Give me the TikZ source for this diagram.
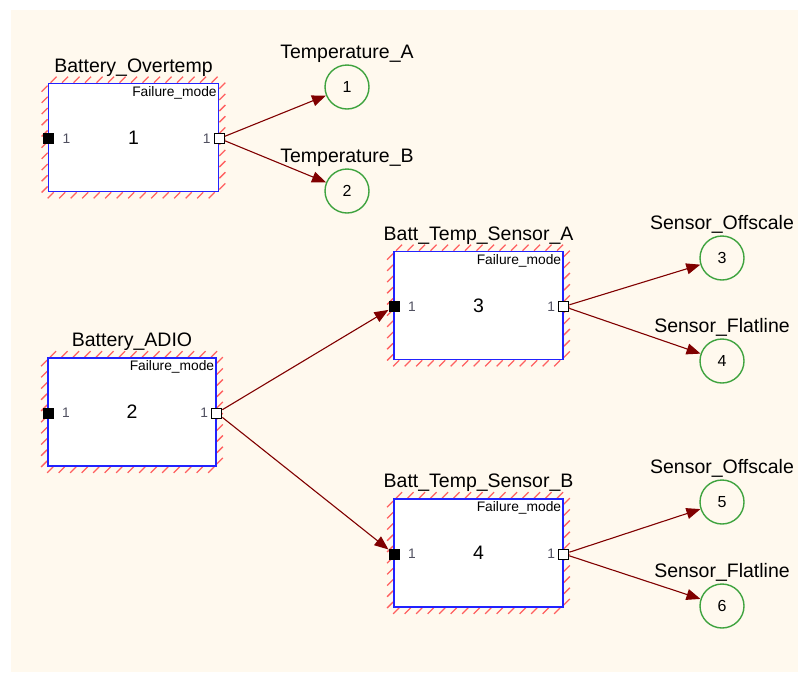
\documentclass[tikz,border=0pt]{standalone}
\usepackage{fontspec}
\setmainfont{Liberation Sans}
\usepackage{tikz}
\usetikzlibrary{arrows.meta,backgrounds}
\definecolor{bgcream}{HTML}{FFF9EE}
\definecolor{boxblue}{HTML}{2222FF}
\definecolor{hatchred}{HTML}{FF6060}
\definecolor{ringgreen}{HTML}{3FA33F}
\definecolor{linkred}{HTML}{800000}
\definecolor{portgray}{HTML}{505060}
\newcommand{\fmtitle}{\fontsize{19.5}{23}\selectfont}
\newcommand{\fmsmall}{\fontsize{13.8}{16}\selectfont}
\newcommand{\fmnum}{\fontsize{16}{18}\selectfont}

\begin{document}
\begin{tikzpicture}[x=1pt,y=-1pt,
      fmbox/.style={rectangle,draw=boxblue,line width=1.7pt,fill=white,
                    minimum width=170pt,minimum height=108pt,inner sep=0pt,font=\fmtitle},
      boxtitle/.style={font=\fmtitle,inner sep=0pt,text height=14pt,text depth=4pt,label distance=6pt},
      fmtag/.style={font=\fmsmall,inner xsep=2.5pt,inner ysep=3.5pt,anchor=north east},
      inport/.style={rectangle,fill=black,minimum size=11pt,inner sep=0pt},
      outport/.style={rectangle,draw=black,line width=1pt,fill=white,minimum size=10pt,inner sep=0pt},
      portnum/.style={font=\fmsmall,text=portgray,inner sep=0pt},
      fmcircle/.style={circle,draw=ringgreen,line width=1.4pt,minimum size=44pt,inner sep=0pt,font=\fmnum},
      circtitle/.style={font=\fmtitle,inner sep=0pt,text height=14pt,text depth=4pt,label distance=2pt},
      fmhatch/.style={draw=hatchred,line width=1.3pt},
      fmlink/.style={draw=linkred,line width=1.1pt,-{Triangle[length=14pt,width=11pt]}}]
    \begin{scope}[on background layer]
      \fill[white] (0,0) rectangle (798,673);
      \fill[bgcream] (11,10) rectangle (798,672);
    \end{scope}
    \useasboundingbox (0,0) rectangle (798,673);

    \node[fmbox,label={[boxtitle]above:Battery\_Overtemp},label={[fmtag]north east:Failure\_mode}]
      (bo) at (133.5,137.5) {1};
    \node[fmbox,minimum width=168pt,label={[boxtitle]above:Battery\_ADIO},label={[fmtag]north east:Failure\_mode}]
      (ba) at (132,412) {2};
    \node[fmbox,minimum width=169pt,label={[boxtitle]above:Batt\_Temp\_Sensor\_A},label={[fmtag]north east:Failure\_mode}]
      (bsa) at (478.5,305.5) {3};
    \node[fmbox,minimum width=169pt,label={[boxtitle]above:Batt\_Temp\_Sensor\_B},label={[fmtag]north east:Failure\_mode}]
      (bsb) at (478.5,553) {4};

    \foreach \b in {bo,ba,bsa,bsb}{
      \begin{scope}[on background layer]
        \foreach \i in {0,...,14}{
          \draw[fmhatch] ([shift={(\i*11.5+3,0)}]\b.north west) -- ++(6,-6);
          \draw[fmhatch] ([shift={(\i*11.5+6,0)}]\b.south west) -- ++(-6,6);
        }
        \foreach \j in {0,...,9}{
          \draw[fmhatch] ([shift={(0,\j*11.2+6)}]\b.north east) -- ++(6,-6);
          \draw[fmhatch] ([shift={(0,\j*11.2+3)}]\b.north west) -- ++(-6,6);
        }
      \end{scope}
      \node[inport,label={[portnum,label distance=8pt]right:1}] (\b-in) at ([shift={(1,1)}]\b.west) {};
      \node[outport,label={[portnum,label distance=3pt]left:1}] (\b-out) at ([shift={(0,1)}]\b.east) {};
    }

    \node[fmcircle,label={[circtitle]above:Temperature\_A}] (c1) at (347,87) {1};
    \node[fmcircle,label={[circtitle]above:Temperature\_B}] (c2) at (347,191) {2};
    \node[fmcircle,label={[circtitle]above:Sensor\_Offscale}] (c3) at (722,258) {3};
    \node[fmcircle,label={[circtitle]above:Sensor\_Flatline}] (c4) at (722,361) {4};
    \node[fmcircle,label={[circtitle]above:Sensor\_Offscale}] (c5) at (722,502) {5};
    \node[fmcircle,label={[circtitle]above:Sensor\_Flatline}] (c6) at (722,606) {6};

    \draw[fmlink] (bo-out) -- (c1);
    \draw[fmlink] (bo-out) -- (c2);
    \draw[fmlink] (ba-out) -- (bsa-in);
    \draw[fmlink] (ba-out) -- (bsb-in);
    \draw[fmlink] (bsa-out) -- (c3);
    \draw[fmlink] (bsa-out) -- (c4);
    \draw[fmlink] (bsb-out) -- (c5);
    \draw[fmlink] (bsb-out) -- (c6);
  \end{tikzpicture}
\end{document}
